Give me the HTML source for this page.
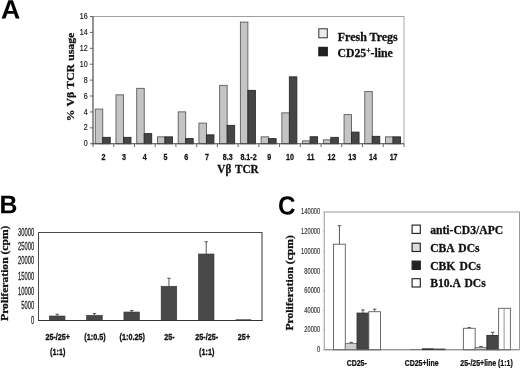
<!DOCTYPE html>
<html>
<head>
<meta charset="utf-8">
<title>Figure</title>
<style>
html, body { margin: 0; padding: 0; background: #ffffff; }
body { width: 520px; height: 368px; overflow: hidden; font-family: "Liberation Sans", sans-serif; }
svg { display: block; will-change: transform; }
text { white-space: pre; }
</style>
</head>
<body>
<svg width="520" height="368" viewBox="0 0 520 368">
<rect x="0" y="0" width="520" height="368" fill="#ffffff"/>
<text transform="translate(0.90,18.40) rotate(0.03) scale(1.010,1)" font-family="'Liberation Sans', sans-serif" font-size="26.4" font-weight="bold" text-anchor="start" fill="#000">A</text>
<text transform="translate(-0.50,213.20) rotate(0.03) scale(0.975,1)" font-family="'Liberation Sans', sans-serif" font-size="25.5" font-weight="bold" text-anchor="start" fill="#000">B</text>
<text transform="translate(278.00,214.50) rotate(0.03) scale(0.925,1)" font-family="'Liberation Sans', sans-serif" font-size="26.3" font-weight="bold" text-anchor="start" fill="#000">C</text>
<line x1="93.00" y1="16.50" x2="404.50" y2="16.50" stroke="#a0a0a0" stroke-width="1"/>
<line x1="404.00" y1="16.50" x2="404.00" y2="143.75" stroke="#bcbcbc" stroke-width="1.3"/>
<rect x="95.25" y="109.10" width="7.50" height="34.65" fill="#c4c4c4" stroke="#5c5c5c" stroke-width="0.9"/>
<rect x="102.75" y="137.35" width="7.50" height="6.40" fill="#454545" stroke="#2a2a2a" stroke-width="0.9"/>
<rect x="115.98" y="94.85" width="7.50" height="48.90" fill="#c4c4c4" stroke="#5c5c5c" stroke-width="0.9"/>
<rect x="123.48" y="137.35" width="7.50" height="6.40" fill="#454545" stroke="#2a2a2a" stroke-width="0.9"/>
<rect x="136.72" y="88.35" width="7.50" height="55.40" fill="#c4c4c4" stroke="#5c5c5c" stroke-width="0.9"/>
<rect x="144.22" y="133.60" width="7.50" height="10.15" fill="#454545" stroke="#2a2a2a" stroke-width="0.9"/>
<rect x="157.45" y="136.85" width="7.50" height="6.90" fill="#c4c4c4" stroke="#5c5c5c" stroke-width="0.9"/>
<rect x="164.95" y="136.85" width="7.50" height="6.90" fill="#454545" stroke="#2a2a2a" stroke-width="0.9"/>
<rect x="178.18" y="111.85" width="7.50" height="31.90" fill="#c4c4c4" stroke="#5c5c5c" stroke-width="0.9"/>
<rect x="185.68" y="138.60" width="7.50" height="5.15" fill="#454545" stroke="#2a2a2a" stroke-width="0.9"/>
<rect x="198.92" y="123.10" width="7.50" height="20.65" fill="#c4c4c4" stroke="#5c5c5c" stroke-width="0.9"/>
<rect x="206.42" y="134.85" width="7.50" height="8.90" fill="#454545" stroke="#2a2a2a" stroke-width="0.9"/>
<rect x="219.65" y="85.35" width="7.50" height="58.40" fill="#c4c4c4" stroke="#5c5c5c" stroke-width="0.9"/>
<rect x="227.15" y="125.35" width="7.50" height="18.40" fill="#454545" stroke="#2a2a2a" stroke-width="0.9"/>
<rect x="240.38" y="22.10" width="7.50" height="121.65" fill="#c4c4c4" stroke="#5c5c5c" stroke-width="0.9"/>
<rect x="247.88" y="90.35" width="7.50" height="53.40" fill="#454545" stroke="#2a2a2a" stroke-width="0.9"/>
<rect x="261.12" y="136.85" width="7.50" height="6.90" fill="#c4c4c4" stroke="#5c5c5c" stroke-width="0.9"/>
<rect x="268.62" y="138.60" width="7.50" height="5.15" fill="#454545" stroke="#2a2a2a" stroke-width="0.9"/>
<rect x="281.85" y="112.85" width="7.50" height="30.90" fill="#c4c4c4" stroke="#5c5c5c" stroke-width="0.9"/>
<rect x="289.35" y="76.85" width="7.50" height="66.90" fill="#454545" stroke="#2a2a2a" stroke-width="0.9"/>
<rect x="302.58" y="140.85" width="7.50" height="2.90" fill="#c4c4c4" stroke="#5c5c5c" stroke-width="0.9"/>
<rect x="310.08" y="136.75" width="7.50" height="7.00" fill="#454545" stroke="#2a2a2a" stroke-width="0.9"/>
<rect x="323.32" y="139.85" width="7.50" height="3.90" fill="#c4c4c4" stroke="#5c5c5c" stroke-width="0.9"/>
<rect x="330.82" y="137.35" width="7.50" height="6.40" fill="#454545" stroke="#2a2a2a" stroke-width="0.9"/>
<rect x="344.05" y="114.60" width="7.50" height="29.15" fill="#c4c4c4" stroke="#5c5c5c" stroke-width="0.9"/>
<rect x="351.55" y="132.10" width="7.50" height="11.65" fill="#454545" stroke="#2a2a2a" stroke-width="0.9"/>
<rect x="364.78" y="91.60" width="7.50" height="52.15" fill="#c4c4c4" stroke="#5c5c5c" stroke-width="0.9"/>
<rect x="372.28" y="136.35" width="7.50" height="7.40" fill="#454545" stroke="#2a2a2a" stroke-width="0.9"/>
<rect x="385.52" y="136.85" width="7.50" height="6.90" fill="#c4c4c4" stroke="#5c5c5c" stroke-width="0.9"/>
<rect x="393.02" y="136.85" width="7.50" height="6.90" fill="#454545" stroke="#2a2a2a" stroke-width="0.9"/>
<line x1="93.00" y1="16.50" x2="93.00" y2="144.25" stroke="#5a5a5a" stroke-width="1.3"/>
<line x1="92.50" y1="143.75" x2="404.00" y2="143.75" stroke="#444" stroke-width="1.1"/>
<line x1="90.00" y1="143.75" x2="93.00" y2="143.75" stroke="#555" stroke-width="0.9"/>
<text transform="translate(87.70,146.00) scale(0.820,1)" font-family="'Liberation Sans', sans-serif" font-size="8.6" font-weight="normal" text-anchor="end" fill="#222" stroke="#222" stroke-width="0.2">0</text>
<line x1="90.00" y1="127.84" x2="93.00" y2="127.84" stroke="#555" stroke-width="0.9"/>
<text transform="translate(87.70,130.00) scale(0.820,1)" font-family="'Liberation Sans', sans-serif" font-size="8.6" font-weight="normal" text-anchor="end" fill="#222" stroke="#222" stroke-width="0.2">2</text>
<line x1="90.00" y1="111.94" x2="93.00" y2="111.94" stroke="#555" stroke-width="0.9"/>
<text transform="translate(87.70,115.00) scale(0.820,1)" font-family="'Liberation Sans', sans-serif" font-size="8.6" font-weight="normal" text-anchor="end" fill="#222" stroke="#222" stroke-width="0.2">4</text>
<line x1="90.00" y1="96.03" x2="93.00" y2="96.03" stroke="#555" stroke-width="0.9"/>
<text transform="translate(87.70,99.00) scale(0.820,1)" font-family="'Liberation Sans', sans-serif" font-size="8.6" font-weight="normal" text-anchor="end" fill="#222" stroke="#222" stroke-width="0.2">6</text>
<line x1="90.00" y1="80.12" x2="93.00" y2="80.12" stroke="#555" stroke-width="0.9"/>
<text transform="translate(87.70,83.00) scale(0.820,1)" font-family="'Liberation Sans', sans-serif" font-size="8.6" font-weight="normal" text-anchor="end" fill="#222" stroke="#222" stroke-width="0.2">8</text>
<line x1="90.00" y1="64.22" x2="93.00" y2="64.22" stroke="#555" stroke-width="0.9"/>
<text transform="translate(87.70,67.00) scale(0.820,1)" font-family="'Liberation Sans', sans-serif" font-size="8.6" font-weight="normal" text-anchor="end" fill="#222" stroke="#222" stroke-width="0.2">10</text>
<line x1="90.00" y1="48.31" x2="93.00" y2="48.31" stroke="#555" stroke-width="0.9"/>
<text transform="translate(87.70,51.00) scale(0.820,1)" font-family="'Liberation Sans', sans-serif" font-size="8.6" font-weight="normal" text-anchor="end" fill="#222" stroke="#222" stroke-width="0.2">12</text>
<line x1="90.00" y1="32.41" x2="93.00" y2="32.41" stroke="#555" stroke-width="0.9"/>
<text transform="translate(87.70,35.00) scale(0.820,1)" font-family="'Liberation Sans', sans-serif" font-size="8.6" font-weight="normal" text-anchor="end" fill="#222" stroke="#222" stroke-width="0.2">14</text>
<line x1="90.00" y1="16.50" x2="93.00" y2="16.50" stroke="#555" stroke-width="0.9"/>
<text transform="translate(87.70,19.00) scale(0.820,1)" font-family="'Liberation Sans', sans-serif" font-size="8.6" font-weight="normal" text-anchor="end" fill="#222" stroke="#222" stroke-width="0.2">16</text>
<line x1="93.00" y1="143.75" x2="93.00" y2="147.05" stroke="#555" stroke-width="0.9"/>
<line x1="113.73" y1="143.75" x2="113.73" y2="147.05" stroke="#555" stroke-width="0.9"/>
<line x1="134.47" y1="143.75" x2="134.47" y2="147.05" stroke="#555" stroke-width="0.9"/>
<line x1="155.20" y1="143.75" x2="155.20" y2="147.05" stroke="#555" stroke-width="0.9"/>
<line x1="175.93" y1="143.75" x2="175.93" y2="147.05" stroke="#555" stroke-width="0.9"/>
<line x1="196.67" y1="143.75" x2="196.67" y2="147.05" stroke="#555" stroke-width="0.9"/>
<line x1="217.40" y1="143.75" x2="217.40" y2="147.05" stroke="#555" stroke-width="0.9"/>
<line x1="238.13" y1="143.75" x2="238.13" y2="147.05" stroke="#555" stroke-width="0.9"/>
<line x1="258.87" y1="143.75" x2="258.87" y2="147.05" stroke="#555" stroke-width="0.9"/>
<line x1="279.60" y1="143.75" x2="279.60" y2="147.05" stroke="#555" stroke-width="0.9"/>
<line x1="300.33" y1="143.75" x2="300.33" y2="147.05" stroke="#555" stroke-width="0.9"/>
<line x1="321.07" y1="143.75" x2="321.07" y2="147.05" stroke="#555" stroke-width="0.9"/>
<line x1="341.80" y1="143.75" x2="341.80" y2="147.05" stroke="#555" stroke-width="0.9"/>
<line x1="362.53" y1="143.75" x2="362.53" y2="147.05" stroke="#555" stroke-width="0.9"/>
<line x1="383.27" y1="143.75" x2="383.27" y2="147.05" stroke="#555" stroke-width="0.9"/>
<line x1="404.00" y1="143.75" x2="404.00" y2="147.05" stroke="#555" stroke-width="0.9"/>
<text transform="translate(103.37,160.00) scale(0.840,1)" font-family="'Liberation Sans', sans-serif" font-size="8.5" font-weight="bold" text-anchor="middle" fill="#111" stroke="#111" stroke-width="0.25">2</text>
<text transform="translate(124.10,160.00) scale(0.840,1)" font-family="'Liberation Sans', sans-serif" font-size="8.5" font-weight="bold" text-anchor="middle" fill="#111" stroke="#111" stroke-width="0.25">3</text>
<text transform="translate(144.83,160.00) scale(0.840,1)" font-family="'Liberation Sans', sans-serif" font-size="8.5" font-weight="bold" text-anchor="middle" fill="#111" stroke="#111" stroke-width="0.25">4</text>
<text transform="translate(165.57,160.00) scale(0.840,1)" font-family="'Liberation Sans', sans-serif" font-size="8.5" font-weight="bold" text-anchor="middle" fill="#111" stroke="#111" stroke-width="0.25">5</text>
<text transform="translate(186.30,160.00) scale(0.840,1)" font-family="'Liberation Sans', sans-serif" font-size="8.5" font-weight="bold" text-anchor="middle" fill="#111" stroke="#111" stroke-width="0.25">6</text>
<text transform="translate(207.03,160.00) scale(0.840,1)" font-family="'Liberation Sans', sans-serif" font-size="8.5" font-weight="bold" text-anchor="middle" fill="#111" stroke="#111" stroke-width="0.25">7</text>
<text transform="translate(227.77,160.00) scale(0.840,1)" font-family="'Liberation Sans', sans-serif" font-size="8.5" font-weight="bold" text-anchor="middle" fill="#111" stroke="#111" stroke-width="0.25">8.3</text>
<text transform="translate(248.50,160.00) scale(0.840,1)" font-family="'Liberation Sans', sans-serif" font-size="8.5" font-weight="bold" text-anchor="middle" fill="#111" stroke="#111" stroke-width="0.25">8.1-2</text>
<text transform="translate(269.23,160.00) scale(0.840,1)" font-family="'Liberation Sans', sans-serif" font-size="8.5" font-weight="bold" text-anchor="middle" fill="#111" stroke="#111" stroke-width="0.25">9</text>
<text transform="translate(289.97,160.00) scale(0.840,1)" font-family="'Liberation Sans', sans-serif" font-size="8.5" font-weight="bold" text-anchor="middle" fill="#111" stroke="#111" stroke-width="0.25">10</text>
<text transform="translate(310.70,160.00) scale(0.840,1)" font-family="'Liberation Sans', sans-serif" font-size="8.5" font-weight="bold" text-anchor="middle" fill="#111" stroke="#111" stroke-width="0.25">11</text>
<text transform="translate(331.43,160.00) scale(0.840,1)" font-family="'Liberation Sans', sans-serif" font-size="8.5" font-weight="bold" text-anchor="middle" fill="#111" stroke="#111" stroke-width="0.25">12</text>
<text transform="translate(352.17,160.00) scale(0.840,1)" font-family="'Liberation Sans', sans-serif" font-size="8.5" font-weight="bold" text-anchor="middle" fill="#111" stroke="#111" stroke-width="0.25">13</text>
<text transform="translate(372.90,160.00) scale(0.840,1)" font-family="'Liberation Sans', sans-serif" font-size="8.5" font-weight="bold" text-anchor="middle" fill="#111" stroke="#111" stroke-width="0.25">14</text>
<text transform="translate(393.63,160.00) scale(0.840,1)" font-family="'Liberation Sans', sans-serif" font-size="8.5" font-weight="bold" text-anchor="middle" fill="#111" stroke="#111" stroke-width="0.25">17</text>
<text transform="translate(73.90,121.20) rotate(-90) scale(1.045,1)" font-family="'Liberation Serif', serif" font-size="11.2" font-weight="bold" text-anchor="start" fill="#111" stroke="#111" stroke-width="0.28" word-spacing="0.3">% Vβ TCR usage</text>
<text transform="translate(217.30,173.00) scale(0.950,1)" font-family="'Liberation Serif', serif" font-size="11.8" font-weight="bold" text-anchor="start" fill="#111" stroke="#111" stroke-width="0.28" word-spacing="1.0">Vβ TCR</text>
<rect x="318.80" y="28.80" width="8.50" height="9.00" fill="#ececec" stroke="#333" stroke-width="1.0"/>
<rect x="318.80" y="47.30" width="8.50" height="8.50" fill="#222" stroke="#111" stroke-width="1.0"/>
<text transform="translate(337.80,41.00) scale(1.015,1)" font-family="'Liberation Serif', serif" font-size="11.8" font-weight="bold" text-anchor="start" fill="#111" stroke="#111" stroke-width="0.28">Fresh Tregs</text>
<text transform="translate(337.40,57.00)" font-family="'Liberation Serif', serif" font-size="11.8" font-weight="bold" text-anchor="start" fill="#111" stroke="#111" stroke-width="0.28">CD25<tspan font-size="7.5" dy="-3.6">+</tspan><tspan dy="3.6">-line</tspan></text>
<line x1="38.00" y1="232.50" x2="262.50" y2="232.50" stroke="#4a4a4a" stroke-width="1.0"/>
<line x1="38.50" y1="232.50" x2="38.50" y2="320.50" stroke="#4a4a4a" stroke-width="1.0"/>
<line x1="262.00" y1="232.50" x2="262.00" y2="321.00" stroke="#6e6e6e" stroke-width="1.4"/>
<line x1="57.20" y1="314.25" x2="57.20" y2="316.00" stroke="#444" stroke-width="0.9"/>
<line x1="55.50" y1="314.25" x2="58.90" y2="314.25" stroke="#444" stroke-width="0.9"/>
<rect x="49.40" y="316.00" width="15.60" height="4.50" fill="#484848" stroke="#383838" stroke-width="0.6"/>
<line x1="94.45" y1="313.50" x2="94.45" y2="315.25" stroke="#444" stroke-width="0.9"/>
<line x1="92.75" y1="313.50" x2="96.15" y2="313.50" stroke="#444" stroke-width="0.9"/>
<rect x="86.65" y="315.25" width="15.60" height="5.25" fill="#484848" stroke="#383838" stroke-width="0.6"/>
<line x1="131.70" y1="310.50" x2="131.70" y2="312.00" stroke="#444" stroke-width="0.9"/>
<line x1="130.00" y1="310.50" x2="133.40" y2="310.50" stroke="#444" stroke-width="0.9"/>
<rect x="123.90" y="312.00" width="15.60" height="8.50" fill="#484848" stroke="#383838" stroke-width="0.6"/>
<line x1="168.95" y1="278.25" x2="168.95" y2="286.25" stroke="#444" stroke-width="0.9"/>
<line x1="167.25" y1="278.25" x2="170.65" y2="278.25" stroke="#444" stroke-width="0.9"/>
<rect x="161.15" y="286.25" width="15.60" height="34.25" fill="#484848" stroke="#383838" stroke-width="0.6"/>
<line x1="206.20" y1="241.75" x2="206.20" y2="254.00" stroke="#444" stroke-width="0.9"/>
<line x1="204.50" y1="241.75" x2="207.90" y2="241.75" stroke="#444" stroke-width="0.9"/>
<rect x="198.40" y="254.00" width="15.60" height="66.50" fill="#484848" stroke="#383838" stroke-width="0.6"/>
<rect x="235.65" y="319.30" width="15.60" height="1.20" fill="#444"/>
<line x1="38.00" y1="320.50" x2="262.50" y2="320.50" stroke="#333" stroke-width="1.0"/>
<text transform="translate(34.20,324.00) scale(0.560,1)" font-family="'Liberation Sans', sans-serif" font-size="10.4" font-weight="normal" text-anchor="end" fill="#222" stroke="#222" stroke-width="0.25">0</text>
<text transform="translate(34.20,309.00) scale(0.560,1)" font-family="'Liberation Sans', sans-serif" font-size="10.4" font-weight="normal" text-anchor="end" fill="#222" stroke="#222" stroke-width="0.25">5000</text>
<text transform="translate(34.20,295.00) scale(0.560,1)" font-family="'Liberation Sans', sans-serif" font-size="10.4" font-weight="normal" text-anchor="end" fill="#222" stroke="#222" stroke-width="0.25">10000</text>
<text transform="translate(34.20,280.00) scale(0.560,1)" font-family="'Liberation Sans', sans-serif" font-size="10.4" font-weight="normal" text-anchor="end" fill="#222" stroke="#222" stroke-width="0.25">15000</text>
<text transform="translate(34.20,264.00) scale(0.560,1)" font-family="'Liberation Sans', sans-serif" font-size="10.4" font-weight="normal" text-anchor="end" fill="#222" stroke="#222" stroke-width="0.25">20000</text>
<text transform="translate(34.20,250.00) scale(0.560,1)" font-family="'Liberation Sans', sans-serif" font-size="10.4" font-weight="normal" text-anchor="end" fill="#222" stroke="#222" stroke-width="0.25">25000</text>
<text transform="translate(34.20,236.00) scale(0.560,1)" font-family="'Liberation Sans', sans-serif" font-size="10.4" font-weight="normal" text-anchor="end" fill="#222" stroke="#222" stroke-width="0.25">30000</text>
<text transform="translate(57.73,340.00) scale(0.745,1)" font-family="'Liberation Sans', sans-serif" font-size="9.7" font-weight="bold" text-anchor="middle" fill="#111" stroke="#111" stroke-width="0.35">25-/25+</text>
<text transform="translate(57.73,355.00) scale(0.745,1)" font-family="'Liberation Sans', sans-serif" font-size="9.7" font-weight="bold" text-anchor="middle" fill="#111" stroke="#111" stroke-width="0.35">(1:1)</text>
<text transform="translate(94.97,340.00) scale(0.745,1)" font-family="'Liberation Sans', sans-serif" font-size="9.7" font-weight="bold" text-anchor="middle" fill="#111" stroke="#111" stroke-width="0.35">(1:0.5)</text>
<text transform="translate(132.22,340.00) scale(0.745,1)" font-family="'Liberation Sans', sans-serif" font-size="9.7" font-weight="bold" text-anchor="middle" fill="#111" stroke="#111" stroke-width="0.35">(1:0.25)</text>
<text transform="translate(169.47,340.00) scale(0.745,1)" font-family="'Liberation Sans', sans-serif" font-size="9.7" font-weight="bold" text-anchor="middle" fill="#111" stroke="#111" stroke-width="0.35">25-</text>
<text transform="translate(206.72,340.00) scale(0.745,1)" font-family="'Liberation Sans', sans-serif" font-size="9.7" font-weight="bold" text-anchor="middle" fill="#111" stroke="#111" stroke-width="0.35">25-/25-</text>
<text transform="translate(206.72,355.00) scale(0.745,1)" font-family="'Liberation Sans', sans-serif" font-size="9.7" font-weight="bold" text-anchor="middle" fill="#111" stroke="#111" stroke-width="0.35">(1:1)</text>
<text transform="translate(243.97,340.00) scale(0.745,1)" font-family="'Liberation Sans', sans-serif" font-size="9.7" font-weight="bold" text-anchor="middle" fill="#111" stroke="#111" stroke-width="0.35">25+</text>
<text transform="translate(7.80,320.90) rotate(-90) scale(1.045,1)" font-family="'Liberation Serif', serif" font-size="11.1" font-weight="bold" text-anchor="start" fill="#111" stroke="#111" stroke-width="0.28">Proliferation (cpm)</text>
<line x1="324.25" y1="212.00" x2="520.00" y2="212.00" stroke="#999" stroke-width="1.0"/>
<line x1="324.25" y1="212.00" x2="324.25" y2="349.80" stroke="#9a9a9a" stroke-width="1.0"/>
<line x1="519.50" y1="212.00" x2="519.50" y2="349.80" stroke="#9a9a9a" stroke-width="1.0"/>
<line x1="339.43" y1="225.70" x2="339.43" y2="244.20" stroke="#444" stroke-width="0.9"/>
<line x1="337.62" y1="225.70" x2="341.23" y2="225.70" stroke="#444" stroke-width="0.9"/>
<rect x="333.55" y="244.20" width="11.75" height="105.60" fill="#ffffff" stroke="#5c5c5c" stroke-width="0.9"/>
<line x1="351.18" y1="342.40" x2="351.18" y2="343.40" stroke="#444" stroke-width="0.9"/>
<line x1="349.38" y1="342.40" x2="352.98" y2="342.40" stroke="#444" stroke-width="0.9"/>
<rect x="345.30" y="343.40" width="11.75" height="6.40" fill="#cdcdcd" stroke="#707070" stroke-width="0.9"/>
<line x1="362.93" y1="309.90" x2="362.93" y2="313.10" stroke="#444" stroke-width="0.9"/>
<line x1="361.12" y1="309.90" x2="364.73" y2="309.90" stroke="#444" stroke-width="0.9"/>
<rect x="357.05" y="313.10" width="11.75" height="36.70" fill="#454545" stroke="#2a2a2a" stroke-width="0.9"/>
<line x1="374.68" y1="309.20" x2="374.68" y2="311.70" stroke="#444" stroke-width="0.9"/>
<line x1="372.88" y1="309.20" x2="376.48" y2="309.20" stroke="#444" stroke-width="0.9"/>
<rect x="368.80" y="311.70" width="11.75" height="38.10" fill="#ffffff" stroke="#5c5c5c" stroke-width="0.9"/>
<line x1="469.26" y1="327.60" x2="469.26" y2="328.30" stroke="#444" stroke-width="0.9"/>
<line x1="467.46" y1="327.60" x2="471.06" y2="327.60" stroke="#444" stroke-width="0.9"/>
<rect x="463.38" y="328.30" width="11.75" height="21.50" fill="#ffffff" stroke="#5c5c5c" stroke-width="0.9"/>
<line x1="481.01" y1="346.40" x2="481.01" y2="347.40" stroke="#444" stroke-width="0.9"/>
<line x1="479.21" y1="346.40" x2="482.81" y2="346.40" stroke="#444" stroke-width="0.9"/>
<rect x="475.13" y="347.40" width="11.75" height="2.40" fill="#cdcdcd" stroke="#707070" stroke-width="0.9"/>
<line x1="492.76" y1="332.30" x2="492.76" y2="335.40" stroke="#444" stroke-width="0.9"/>
<line x1="490.96" y1="332.30" x2="494.56" y2="332.30" stroke="#444" stroke-width="0.9"/>
<rect x="486.88" y="335.40" width="11.75" height="14.40" fill="#454545" stroke="#2a2a2a" stroke-width="0.9"/>
<rect x="498.63" y="308.30" width="11.75" height="41.50" fill="#ffffff" stroke="#5c5c5c" stroke-width="0.9"/>
<line x1="504.11" y1="308.30" x2="504.11" y2="349.80" stroke="#777" stroke-width="0.8"/>
<line x1="324.25" y1="349.80" x2="519.50" y2="349.80" stroke="#6c6c6c" stroke-width="1.0"/>
<rect x="410.22" y="349.00" width="11.75" height="1.00" fill="#777"/>
<rect x="421.97" y="348.30" width="11.75" height="1.80" fill="#333"/>
<rect x="433.72" y="348.60" width="11.75" height="1.50" fill="#444"/>
<line x1="322.75" y1="349.80" x2="324.25" y2="349.80" stroke="#aaa" stroke-width="0.7"/>
<text transform="translate(320.20,352.00) scale(0.700,1)" font-family="'Liberation Sans', sans-serif" font-size="8.2" font-weight="normal" text-anchor="end" fill="#333" stroke="#333" stroke-width="0.15">0</text>
<line x1="322.75" y1="330.11" x2="324.25" y2="330.11" stroke="#aaa" stroke-width="0.7"/>
<text transform="translate(320.20,332.00) scale(0.700,1)" font-family="'Liberation Sans', sans-serif" font-size="8.2" font-weight="normal" text-anchor="end" fill="#333" stroke="#333" stroke-width="0.15">20000</text>
<line x1="322.75" y1="310.43" x2="324.25" y2="310.43" stroke="#aaa" stroke-width="0.7"/>
<text transform="translate(320.20,313.00) scale(0.700,1)" font-family="'Liberation Sans', sans-serif" font-size="8.2" font-weight="normal" text-anchor="end" fill="#333" stroke="#333" stroke-width="0.15">40000</text>
<line x1="322.75" y1="290.74" x2="324.25" y2="290.74" stroke="#aaa" stroke-width="0.7"/>
<text transform="translate(320.20,293.00) scale(0.700,1)" font-family="'Liberation Sans', sans-serif" font-size="8.2" font-weight="normal" text-anchor="end" fill="#333" stroke="#333" stroke-width="0.15">60000</text>
<line x1="322.75" y1="271.06" x2="324.25" y2="271.06" stroke="#aaa" stroke-width="0.7"/>
<text transform="translate(320.20,274.00) scale(0.700,1)" font-family="'Liberation Sans', sans-serif" font-size="8.2" font-weight="normal" text-anchor="end" fill="#333" stroke="#333" stroke-width="0.15">80000</text>
<line x1="322.75" y1="251.37" x2="324.25" y2="251.37" stroke="#aaa" stroke-width="0.7"/>
<text transform="translate(320.20,254.00) scale(0.700,1)" font-family="'Liberation Sans', sans-serif" font-size="8.2" font-weight="normal" text-anchor="end" fill="#333" stroke="#333" stroke-width="0.15">100000</text>
<line x1="322.75" y1="231.69" x2="324.25" y2="231.69" stroke="#aaa" stroke-width="0.7"/>
<text transform="translate(320.20,234.00) scale(0.700,1)" font-family="'Liberation Sans', sans-serif" font-size="8.2" font-weight="normal" text-anchor="end" fill="#333" stroke="#333" stroke-width="0.15">120000</text>
<line x1="322.75" y1="212.00" x2="324.25" y2="212.00" stroke="#aaa" stroke-width="0.7"/>
<text transform="translate(320.20,214.00) scale(0.700,1)" font-family="'Liberation Sans', sans-serif" font-size="8.2" font-weight="normal" text-anchor="end" fill="#333" stroke="#333" stroke-width="0.15">140000</text>
<text transform="translate(356.71,366.00) scale(0.830,1)" font-family="'Liberation Sans', sans-serif" font-size="8.4" font-weight="bold" text-anchor="middle" fill="#111" stroke="#111" stroke-width="0.25">CD25-</text>
<text transform="translate(421.62,366.00) scale(0.830,1)" font-family="'Liberation Sans', sans-serif" font-size="8.4" font-weight="bold" text-anchor="middle" fill="#111" stroke="#111" stroke-width="0.25">CD25+line</text>
<text transform="translate(486.54,366.00) scale(0.830,1)" font-family="'Liberation Sans', sans-serif" font-size="8.4" font-weight="bold" text-anchor="middle" fill="#111" stroke="#111" stroke-width="0.25">25-/25+line (1:1)</text>
<text transform="translate(293.00,330.60) rotate(-90) scale(1.045,1)" font-family="'Liberation Serif', serif" font-size="11.1" font-weight="bold" text-anchor="start" fill="#111" stroke="#111" stroke-width="0.28">Proliferation (cpm)</text>
<rect x="412.10" y="225.10" width="8.20" height="8.30" fill="#fff" stroke="#222" stroke-width="1.15"/>
<text transform="translate(430.20,234.00) scale(0.985,1)" font-family="'Liberation Serif', serif" font-size="11.8" font-weight="bold" text-anchor="start" fill="#111" stroke="#111" stroke-width="0.28" word-spacing="1.3">anti-CD3/APC</text>
<rect x="412.10" y="243.20" width="8.20" height="8.30" fill="#dcdcdc" stroke="#222" stroke-width="1.15"/>
<text transform="translate(430.20,252.00) scale(0.985,1)" font-family="'Liberation Serif', serif" font-size="11.8" font-weight="bold" text-anchor="start" fill="#111" stroke="#111" stroke-width="0.28" word-spacing="1.3">CBA DCs</text>
<rect x="412.10" y="261.10" width="8.20" height="8.30" fill="#222" stroke="#222" stroke-width="1.15"/>
<text transform="translate(430.20,270.00) scale(0.985,1)" font-family="'Liberation Serif', serif" font-size="11.8" font-weight="bold" text-anchor="start" fill="#111" stroke="#111" stroke-width="0.28" word-spacing="1.3">CBK DCs</text>
<rect x="412.10" y="278.70" width="8.20" height="8.30" fill="#fff" stroke="#222" stroke-width="1.15"/>
<text transform="translate(430.20,287.00) scale(0.985,1)" font-family="'Liberation Serif', serif" font-size="11.8" font-weight="bold" text-anchor="start" fill="#111" stroke="#111" stroke-width="0.28" word-spacing="1.3">B10.A DCs</text>
</svg>
</body>
</html>
